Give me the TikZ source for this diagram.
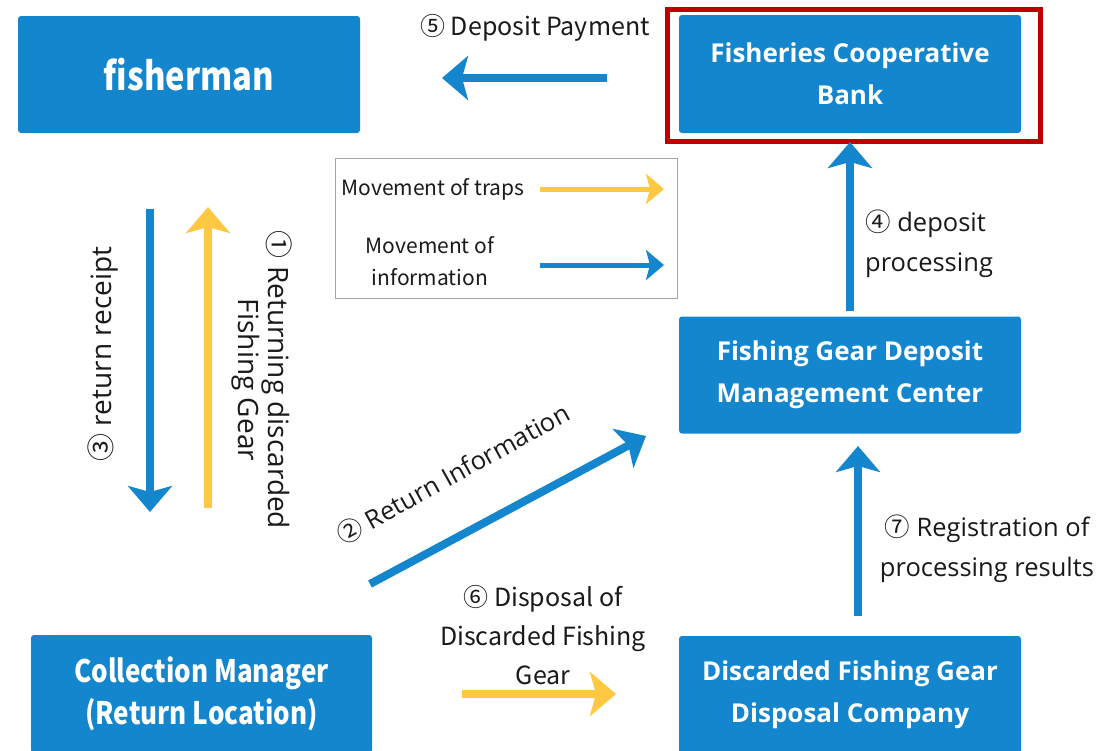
\documentclass[tikz,border=0pt]{standalone}
\usepackage{fontspec}
\setmainfont{Open Sans}
\newfontfamily\cjk{Noto Sans CJK JP}
\newfontfamily\cjknarrow[FakeStretch=0.84]{Noto Sans CJK JP}
\usetikzlibrary{arrows.meta}
\definecolor{bl}{HTML}{1386CE}
\definecolor{yl}{HTML}{FFC843}
\definecolor{rd}{HTML}{C00000}
\definecolor{tx}{HTML}{1A1A1A}
\tikzset{
  box/.style={fill=bl, rounded corners=3pt, text=white, align=center, inner sep=0pt},
  wide/.style={font=\fontsize{26}{42}\selectfont\bfseries},
  narrow/.style={font=\cjknarrow\fontsize{31}{42}\selectfont\bfseries},
  lbl/.style={text=tx, align=center, inner sep=0pt},
  lblw/.style={lbl, font=\fontsize{25.5}{40}\selectfont},
  lblr/.style={lbl, font=\fontsize{28}{30}\selectfont},
  lbln/.style={lbl, font=\cjk\fontsize{25}{39}\selectfont},
  bigarrow/.style={line width=8pt, -{Stealth[length=26pt,width=44pt,inset=6pt]}},
  legarrow/.style={line width=5pt, -{Stealth[length=18pt,width=30pt,inset=4pt]}},
}
\begin{document}
\begin{tikzpicture}[x=1pt,y=-1pt]
\useasboundingbox[fill=white] (0,0) rectangle (1107,750);
% boxes
\node[box, narrow, font=\cjknarrow\fontsize{39}{42}\selectfont\bfseries, minimum width=342pt, minimum height=117pt] (fisher) at (189,74.5) {fisherman};
\node[box, wide, minimum width=342pt, minimum height=118pt] (bank) at (850,74) {Fisheries Cooperative\\Bank};
\draw[rd, line width=5pt] (667,9) rectangle (1040,141);
\node[box, wide, minimum width=342pt, minimum height=117pt] (center) at (850,375) {Fishing Gear Deposit\\Management Center};
\node[box, wide, minimum width=342pt, minimum height=118pt] (disp) at (850,695) {Discarded Fishing Gear\\Disposal Company};
\node[box, narrow, minimum width=341pt, minimum height=118pt] (coll) at (201.5,694) {Collection Manager\\(Return Location)};
% legend
\draw[gray!70, line width=1pt] (335,158) rectangle (677,298);
\node[lbln, font=\cjk\fontsize{21}{32}\selectfont] (lt) at (433,189) {Movement of traps};
\node[lbln, font=\cjk\fontsize{21}{32}\selectfont] (li) at (430,261) {Movement of\\information};
\coordinate (lta) at (540,189); \coordinate (ltb) at (664,189);
\coordinate (lia) at (540,265); \coordinate (lib) at (664,265);
\draw[legarrow, yl] (lta) -- (ltb);
\draw[legarrow, bl] (lia) -- (lib);
% 5 deposit payment
\coordinate (p5a) at (607,78); \coordinate (p5b) at (442,78);
\draw[bigarrow, bl] (p5a) -- (p5b);
\node[lbln] (l5) at (535,28) {⑤ Deposit Payment};
% left arrows
\coordinate (p3a) at (150,209); \coordinate (p3b) at (150,512);
\draw[bigarrow, bl] (p3a) -- (p3b);
\coordinate (p1a) at (208,508); \coordinate (p1b) at (208,207);
\draw[bigarrow, yl] (p1a) -- (p1b);
\node[lblr, rotate=90] (l3) at (103,354) {{\cjk ③} return receipt};
\node[lblr, rotate=-90] (l1) at (262,380) {{\cjk ①} Returning discarded\\Fishing Gear};
% 2 return information
\coordinate (p2a) at (370,584); \coordinate (p2b) at (646,436);
\draw[bigarrow, bl] (p2a) -- (p2b);
\node[lblw, rotate=29] (l2) at (453,474) {{\cjk ②} Return Information};
% 6 disposal
\coordinate (p6a) at (462,694); \coordinate (p6b) at (616,694);
\draw[bigarrow, yl] (p6a) -- (p6b);
\node[lbln] (l6) at (543,635) {⑥ Disposal of\\Discarded Fishing\\Gear};
% 4 deposit processing
\coordinate (p4a) at (850,311); \coordinate (p4b) at (850,142);
\draw[bigarrow, bl] (p4a) -- (p4b);
\node[lblw, align=left, anchor=west] (l4) at (865,244) {{\cjk ④} deposit\\processing};
% 7 registration
\coordinate (p7a) at (858,616); \coordinate (p7b) at (858,446);
\draw[bigarrow, bl] (p7a) -- (p7b);
\node[lblw] (l7) at (987,549) {{\cjk ⑦} Registration of\\processing results};
\end{tikzpicture}
\end{document}
